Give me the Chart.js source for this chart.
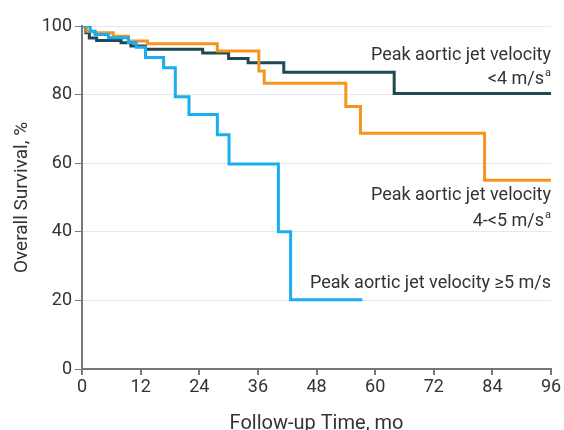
<!DOCTYPE html>
<html>
<head>
<meta charset="utf-8">
<script src="https://cdn.jsdelivr.net/npm/chart.js@4.4.1/dist/chart.umd.min.js"></script>
<style>
  html, body { margin: 0; padding: 0; background: #fff; }
  #wrap { width: 564px; height: 430px; }
</style>
</head>
<body>
<div id="wrap"><canvas id="kmChart"></canvas></div>
<script>
// x axis ticks (months) and y axis ticks (%)
let monthTicks = [0, 12, 24, 36, 48, 60, 72, 84, 96];
let survivalTicks = [0, 20, 40, 60, 80, 100];

// <4 m/s
let lowTimes = [0, 0.8, 1.5, 3, 8, 10, 13, 24.7, 30, 34, 41.3, 63.9, 96];
let lowSurv  = [100, 98, 96.5, 95.8, 95.1, 94.2, 93.2, 92.1, 90.5, 89.3, 86.5, 80.3, 80.3];

// 4-<5 m/s
let midTimes = [0, 1, 2.5, 6.4, 9.5, 13.4, 27.7, 36.2, 37.3, 54, 57, 82.4, 96];
let midSurv  = [100, 98.5, 98, 97, 95.6, 94.8, 92.7, 86.9, 83.3, 76.5, 68.7, 55, 55];

// >=5 m/s
let highTimes = [0, 1.7, 2.7, 5.4, 9.5, 11.1, 13, 16.7, 19.1, 21.9, 27.7, 30.1, 40.2, 42.7, 57.4];
let highSurv  = [100, 98.5, 97.5, 96.6, 95.2, 93.8, 90.8, 87.8, 79.4, 74.2, 68.3, 59.8, 40, 20.2, 20.2];

let seriesNames = ['<4 m/s', '4-<5 m/s', '\u22655 m/s'];

toPoints = (times, surv) => {
    let pts = [];
    for (var i = 0; i < times.length; i++) {
        pts.push({ x: times[i], y: surv[i] });
    }
    return pts;
};

const FONT = 'Roboto, "Noto Sans", sans-serif';
const TEXT = '#333';

// curve labels written inside the plot, right aligned at 96 mo
const curveLabels = {
    id: 'curveLabels',
    afterDatasetsDraw(chart) {
        let ctx = chart.ctx;
        let xs = chart.scales.x, ys = chart.scales.y;
        let right = xs.getPixelForValue(96);
        ctx.save();
        ctx.fillStyle = TEXT;
        ctx.textBaseline = 'middle';

        let writeLine = (text, v, sup) => {
            let y = ys.getPixelForValue(v);
            let supW = 0;
            if (sup) {
                ctx.font = '11px ' + FONT;
                supW = ctx.measureText(sup).width + 1;
                ctx.textAlign = 'left';
                ctx.fillText(sup, right - supW + 1, y - 6);
            }
            ctx.font = '18px ' + FONT;
            ctx.textAlign = 'right';
            ctx.fillText(text, right - supW, y);
        };

        writeLine('Peak aortic jet velocity', 91.5, null);
        writeLine(seriesNames[0], 84.4, 'a');
        writeLine('Peak aortic jet velocity', 50.6, null);
        writeLine(seriesNames[1], 43, 'a');
        writeLine('Peak aortic jet velocity ' + seriesNames[2], 24.9, null);
        ctx.restore();
    }
};

displayKMChart = () => {
    var ctx = document.getElementById('kmChart').getContext('2d');
    var lineOpts = { stepped: 'before', borderWidth: 3, pointRadius: 0, fill: false, tension: 0 };
    var myChart = new Chart(ctx, {
        type: 'line',
        data: {
            datasets: [
                Object.assign({ label: seriesNames[2], data: toPoints(highTimes, highSurv), borderColor: '#1aaef0' }, lineOpts),
                Object.assign({ label: seriesNames[1], data: toPoints(midTimes, midSurv), borderColor: '#f7941d' }, lineOpts),
                Object.assign({ label: seriesNames[0], data: toPoints(lowTimes, lowSurv), borderColor: '#1e4a56' }, lineOpts)
            ]
        },
        options: {
            responsive: true,
            maintainAspectRatio: false,
            animation: false,
            layout: { padding: { left: 3, right: 13, top: 26, bottom: 0 } },
            plugins: { legend: { display: false }, tooltip: { enabled: false } },
            scales: {
                x: {
                    type: 'linear',
                    min: 0,
                    max: 96,
                    afterBuildTicks: s => { s.ticks = monthTicks.map(v => ({ value: v })); },
                    afterFit: s => { s.height = 61; },
                    grid: { drawOnChartArea: false, tickLength: 6, color: '#777', lineWidth: 2 },
                    border: { color: '#777', width: 2 },
                    ticks: { color: TEXT, font: { family: FONT, size: 18 }, padding: 2, maxRotation: 0 },
                    title: { display: true, text: 'Follow-up Time, mo', color: TEXT, font: { family: FONT, size: 20 }, padding: { top: 0, bottom: -6 } }
                },
                y: {
                    min: 0,
                    max: 100,
                    afterBuildTicks: s => { s.ticks = survivalTicks.map(v => ({ value: v })); },
                    afterFit: s => { s.width = 79; },
                    grid: { color: '#e8e8e8', tickColor: '#777', tickLength: 7, lineWidth: 1 },
                    border: { color: '#777', width: 2 },
                    ticks: { color: TEXT, font: { family: FONT, size: 18 }, padding: 3 },
                    title: { display: true, text: 'Overall Survival, %', color: TEXT, font: { family: FONT, size: 19 }, padding: { top: 8, bottom: 0 } }
                }
            }
        },
        plugins: [curveLabels]
    });
};

displayKMChart();
</script>
</body>
</html>
